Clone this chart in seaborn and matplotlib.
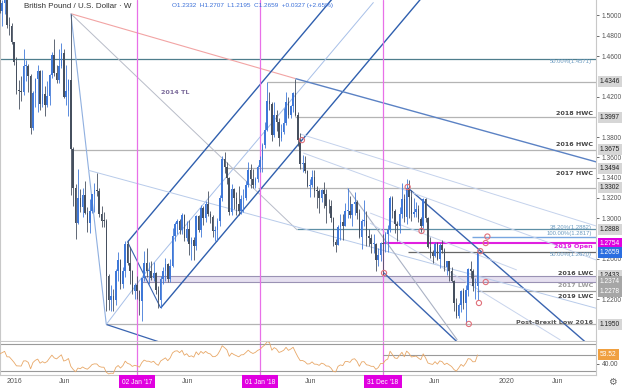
import numpy as np
import pandas as pd
import matplotlib
matplotlib.use("Agg")
import matplotlib.pyplot as plt
import matplotlib.dates as mdates
import matplotlib.transforms as mtransforms
import seaborn as sns

# ---- weekly GBP/USD candles, Mondays 2015-08-03 ... 2019-10-07 (open = prior close)
first_open = 1.5615
highs = [
    # 2015 Aug-Dec
    1.5690, 1.5660, 1.5820, 1.5750, 1.5460, 1.5470, 1.5660, 1.5600, 1.5250, 1.5380, 1.5510,
    1.5510, 1.5430, 1.5510, 1.5240, 1.5330, 1.5230, 1.5155, 1.5240, 1.5240, 1.4990, 1.4930,
    # 2016
    1.4740, 1.4590, 1.4360, 1.4400, 1.4670, 1.4560, 1.4520, 1.4420, 1.4250, 1.4380, 1.4515,
    1.4460, 1.4460, 1.4300, 1.4350, 1.4420, 1.4640, 1.4770, 1.4510, 1.4670, 1.4730, 1.4670,
    1.4510, 1.4375, 1.5018, 1.3700, 1.3340, 1.3480, 1.3290, 1.3300, 1.3370, 1.3110, 1.3190,
    1.3240, 1.3345, 1.3445, 1.3300, 1.3120, 1.3060, 1.2990, 1.2450, 1.2340, 1.2300, 1.2500,
    1.2670, 1.2600, 1.2520, 1.2775, 1.2775, 1.2710, 1.2490, 1.2360,
    # 2017
    1.2430, 1.2290, 1.2415, 1.2675, 1.2705, 1.2570, 1.2580, 1.2570, 1.2470, 1.2330, 1.2430,
    1.2520, 1.2610, 1.2560, 1.2600, 1.2905, 1.2960, 1.2990, 1.2990, 1.3048, 1.3040, 1.2975,
    1.2980, 1.2815, 1.2810, 1.3030, 1.3030, 1.3125, 1.3115, 1.3165, 1.3267, 1.3075, 1.3030,
    1.2920, 1.3000, 1.3225, 1.3615, 1.3657, 1.3550, 1.3410, 1.3340, 1.3300, 1.3260, 1.3320,
    1.3230, 1.3290, 1.3365, 1.3550, 1.3530, 1.3480, 1.3410, 1.3520,
    # 2018
    1.3615, 1.3745, 1.3945, 1.4345, 1.4240, 1.4150, 1.4145, 1.4070, 1.3990, 1.3930, 1.4090,
    1.4245, 1.4200, 1.4115, 1.4245, 1.4377, 1.4050, 1.3845, 1.3620, 1.3615, 1.3470, 1.3390,
    1.3470, 1.3475, 1.3315, 1.3290, 1.3290, 1.3360, 1.3285, 1.3190, 1.3175, 1.3010, 1.2790,
    1.2930, 1.3045, 1.3040, 1.3145, 1.3299, 1.3215, 1.3140, 1.3255, 1.3175, 1.3090, 1.2990,
    1.3175, 1.3070, 1.2890, 1.2845, 1.2840, 1.2750, 1.2705, 1.2760, 1.2840,
    # 2019
    1.2865, 1.2930, 1.3215, 1.3215, 1.3085, 1.2970, 1.3110, 1.3350, 1.3240, 1.3382, 1.3380,
    1.3280, 1.3195, 1.3160, 1.3125, 1.3010, 1.3200, 1.3195, 1.3010, 1.2815, 1.2690, 1.2765,
    1.2760, 1.2750, 1.2785, 1.2705, 1.2580, 1.2580, 1.2520, 1.2390, 1.2210, 1.2160, 1.2295,
    1.2310, 1.2340, 1.2510, 1.2580, 1.2500, 1.2410, 1.2707,
]
lows = [
    # 2015 Aug-Dec
    1.5410, 1.5470, 1.5570, 1.5330, 1.5160, 1.5170, 1.5340, 1.5180, 1.5110, 1.5100, 1.5250,
    1.5290, 1.5260, 1.5030, 1.5030, 1.5170, 1.5025, 1.4895, 1.5010, 1.4880, 1.4805, 1.4715,
    # 2016
    1.4510, 1.4230, 1.4080, 1.4160, 1.4220, 1.4350, 1.4240, 1.3835, 1.3870, 1.4100, 1.4050,
    1.4070, 1.4100, 1.4005, 1.4100, 1.4120, 1.4380, 1.4400, 1.4330, 1.4330, 1.4480, 1.4190,
    1.4120, 1.4010, 1.3229, 1.3120, 1.2798, 1.2940, 1.3060, 1.3010, 1.3040, 1.2865, 1.2850,
    1.3050, 1.3060, 1.3220, 1.3010, 1.2915, 1.2910, 1.2085, 1.2090, 1.2085, 1.2080, 1.2140,
    1.2380, 1.2300, 1.2310, 1.2420, 1.2540, 1.2350, 1.2250, 1.2200,
    # 2017
    1.2200, 1.2040, 1.1986, 1.2380, 1.2420, 1.2345, 1.2385, 1.2380, 1.2250, 1.2110, 1.2110,
    1.2350, 1.2380, 1.2365, 1.2365, 1.2515, 1.2775, 1.2840, 1.2845, 1.2845, 1.2770, 1.2770,
    1.2635, 1.2590, 1.2590, 1.2690, 1.2865, 1.2810, 1.2930, 1.2960, 1.3020, 1.2950, 1.2810,
    1.2775, 1.2770, 1.2925, 1.3170, 1.3450, 1.3340, 1.3030, 1.3030, 1.3090, 1.3030, 1.3030,
    1.3040, 1.3060, 1.3180, 1.3305, 1.3300, 1.3300, 1.3300, 1.3360,
    # 2018
    1.3460, 1.3460, 1.3690, 1.3855, 1.4070, 1.3765, 1.3800, 1.3855, 1.3710, 1.3765, 1.3835,
    1.3915, 1.3985, 1.3990, 1.4050, 1.4005, 1.3710, 1.3485, 1.3460, 1.3445, 1.3305, 1.3205,
    1.3310, 1.3205, 1.3100, 1.3050, 1.3160, 1.3100, 1.2955, 1.3055, 1.2960, 1.2725, 1.2662,
    1.2730, 1.2785, 1.2785, 1.2920, 1.3000, 1.3000, 1.2920, 1.3030, 1.2990, 1.2805, 1.2695,
    1.2920, 1.2725, 1.2725, 1.2660, 1.2660, 1.2477, 1.2525, 1.2580, 1.2438,
    # 2019
    1.2670, 1.2670, 1.2865, 1.3000, 1.2855, 1.2775, 1.2855, 1.3000, 1.2965, 1.2945, 1.3005,
    1.2975, 1.3010, 1.3010, 1.2960, 1.2865, 1.2905, 1.2965, 1.2705, 1.2605, 1.2560, 1.2620,
    1.2585, 1.2505, 1.2660, 1.2480, 1.2440, 1.2380, 1.2365, 1.2080, 1.2015, 1.2015, 1.2070,
    1.2100, 1.1959, 1.2235, 1.2410, 1.2280, 1.2200, 1.2195,
]
closes = [
    # 2015 Aug-Dec
    1.5505, 1.5640, 1.5700, 1.5400, 1.5190, 1.5430, 1.5595, 1.5200, 1.5190, 1.5330, 1.5450,
    1.5315, 1.5425, 1.5060, 1.5230, 1.5190, 1.5040, 1.5120, 1.5215, 1.4905, 1.4900, 1.4735,
    # 2016
    1.4540, 1.4265, 1.4255, 1.4245, 1.4500, 1.4505, 1.4405, 1.3890, 1.4235, 1.4375, 1.4450,
    1.4130, 1.4225, 1.4120, 1.4205, 1.4410, 1.4615, 1.4430, 1.4365, 1.4500, 1.4630, 1.4200,
    1.4255, 1.4360, 1.3680, 1.3295, 1.2955, 1.3200, 1.3110, 1.3225, 1.3050, 1.2950, 1.3075,
    1.3235, 1.3275, 1.3265, 1.3040, 1.2975, 1.2970, 1.2430, 1.2190, 1.2230, 1.2190, 1.2480,
    1.2590, 1.2345, 1.2475, 1.2745, 1.2555, 1.2480, 1.2280, 1.2340,
    # 2017
    1.2280, 1.2180, 1.2410, 1.2560, 1.2480, 1.2480, 1.2410, 1.2460, 1.2295, 1.2195, 1.2395,
    1.2475, 1.2550, 1.2395, 1.2530, 1.2825, 1.2945, 1.2970, 1.2885, 1.3030, 1.2800, 1.2890,
    1.2740, 1.2785, 1.2720, 1.3025, 1.2880, 1.3100, 1.3000, 1.3135, 1.3045, 1.3010, 1.2875,
    1.2880, 1.2970, 1.3200, 1.3585, 1.3500, 1.3400, 1.3065, 1.3285, 1.3200, 1.3135, 1.3075,
    1.3190, 1.3200, 1.3325, 1.3475, 1.3385, 1.3330, 1.3390, 1.3505,
    # 2018
    1.3570, 1.3725, 1.3865, 1.4155, 1.4125, 1.3820, 1.4015, 1.3950, 1.3795, 1.3850, 1.3935,
    1.4145, 1.4015, 1.4105, 1.4235, 1.4015, 1.3775, 1.3535, 1.3545, 1.3465, 1.3315, 1.3325,
    1.3410, 1.3270, 1.3265, 1.3195, 1.3280, 1.3235, 1.3120, 1.3115, 1.3000, 1.2765, 1.2735,
    1.2915, 1.2965, 1.2925, 1.3070, 1.3070, 1.3030, 1.3135, 1.3155, 1.3050, 1.2815, 1.2970,
    1.2975, 1.2825, 1.2800, 1.2745, 1.2745, 1.2585, 1.2635, 1.2754, 1.2745,
    # 2019
    1.2845, 1.2885, 1.3195, 1.3075, 1.2940, 1.2920, 1.3045, 1.3185, 1.3010, 1.3300, 1.3205,
    1.3040, 1.3065, 1.3085, 1.2995, 1.2925, 1.3190, 1.3005, 1.2715, 1.2660, 1.2625, 1.2740,
    1.2595, 1.2735, 1.2690, 1.2520, 1.2575, 1.2475, 1.2375, 1.2165, 1.2030, 1.2145, 1.2285,
    1.2160, 1.2290, 1.2500, 1.2475, 1.2325, 1.2332, 1.2659,
]

# ---- horizontal levels drawn on the chart
level_prices = [1.4571, 1.4346, 1.3997, 1.3675, 1.3494, 1.3302, 1.2888, 1.2817, 1.2754, 1.2670, 1.2278, 1.1950]
level_starts = ["2015-11-01", "2018-01-22", "2018-04-16", "2016-06-20", "2017-09-18", "2017-12-25",
                "2018-04-21", "2019-09-20", "2018-12-31", "2019-03-15", "2019-10-05", "2016-10-03"]
level_colors = ["#4e7d8c", "#b4b4b4", "#b4b4b4", "#b4b4b4", "#b4b4b4", "#b4b4b4",
                "#5d8fa6", "#78a6e0", "#e020e0", "#666666", "#9a9a9a", "#b4b4b4"]
level_widths = [0.9, 0.9, 0.9, 0.9, 0.9, 0.9, 0.9, 1.0, 1.5, 0.9, 0.9, 0.9]
lwc_band = (1.2374, 1.2433)
lwc_band_start = "2017-01-16"

# ---- trendlines (start date, start price, end date, end price)
tl_start_dates = ["2016-06-20", "2016-06-20", "2016-06-20", "2016-10-03", "2016-12-05", "2017-03-13",
                  "2016-12-05", "2017-01-22", "2016-10-03", "2018-04-16", "2019-03-15", "2019-01-03",
                  "2016-08-10", "2018-04-30", "2018-05-09", "2018-09-16", "2018-11-23", "2018-11-23"]
tl_start_prices = [1.5018, 1.5018, 1.5018, 1.1950, 1.2764, 1.2113,
                   1.2764, 1.2439, 1.1950, 1.4377, 1.3297, 1.2458,
                   1.3473, 1.3830, 1.3643, 1.3297, 1.3050, 1.2951]
tl_end_dates = ["2018-04-16", "2018-04-21", "2016-10-03", "2017-04-30", "2018-09-03", "2019-05-06",
                "2017-03-13", "2018-12-03", "2017-01-22", "2020-09-24", "2020-09-22", "2019-09-01",
                "2020-09-22", "2020-09-22", "2020-09-22", "2019-08-08", "2020-01-31", "2020-06-08"]
tl_end_prices = [1.4377, 1.2883, 1.1950, 1.1720, 1.5288, 1.5220,
                 1.2113, 1.5130, 1.2439, 1.3553, 1.1684, 1.1701,
                 1.2110, 1.2922, 1.2587, 1.1797, 1.2488, 1.1797]
tl_colors = ["#f2a4a4", "#b8bcc8", "#90b0e0", "#3a64b0", "#2f5fae", "#2f5fae",
             "#3a64b0", "#a8c0e8", "#a8c0e8", "#5b82c4", "#3a64b0", "#3a64b0",
             "#b8cbea", "#c4d2ec", "#c4d2ec", "#aab2c4", "#c8d4ec", "#c8d4ec"]
tl_widths = [0.8, 0.7, 0.8, 0.9, 1.0, 1.0, 0.8, 0.7, 0.7, 1.0, 1.0, 1.0,
             0.7, 0.7, 0.7, 0.8, 0.7, 0.7]

# ---- touch points (red circles)
circle_dates = ["2018-05-05", "2019-03-14", "2019-04-24", "2019-01-03", "2019-11-05",
                "2019-10-31", "2019-10-15", "2019-10-31", "2019-10-11", "2019-09-11"]
circle_prices = [1.3770, 1.3307, 1.2873, 1.2458, 1.2818, 1.2754, 1.2674, 1.2369, 1.2162, 1.1955]

# ---- text
level_label_texts = ["2018 HWC", "2016 HWC", "2017 HWC", "2019 Open", "2016 LWC", "2017 LWC",
                     "2019 LWC", "Post-Brexit Low 2016"]
level_label_prices = [1.4037, 1.3722, 1.3445, 1.2715, 1.2458, 1.2330, 1.2231, 1.1974]
level_label_colors = ["#444444", "#444444", "#444444", "#e020e0", "#444444", "#9a9a9a", "#444444", "#555555"]
fib_label_texts = ["50.00%(1.4571)", "38.20%(1.2882)", "100.00%(1.2817)", "50.00%(1.2670)"]
fib_label_prices = [1.4541, 1.2912, 1.2848, 1.2636]

badge_texts = ["1.4346", "1.3997", "1.3675", "1.3494", "1.3302", "1.2888", "1.2754",
               "1.2659", "1.2433", "1.2374", "1.2278", "1.1950"]
badge_bg = ["#d6d6d6", "#d6d6d6", "#d6d6d6", "#d6d6d6", "#d6d6d6", "#d6d6d6", "#e000e0",
            "#2a6ee0", "#d6d6d6", "#a6a6a6", "#a6a6a6", "#d6d6d6"]
badge_fg = ["#222222", "#222222", "#222222", "#222222", "#222222", "#222222", "white",
            "white", "#222222", "white", "white", "#222222"]
price_ticks = [1.22, 1.26, 1.30, 1.32, 1.34, 1.36, 1.38, 1.42, 1.46, 1.48, 1.50]

year_marks = ["2017-01-02", "2018-01-01", "2018-12-31"]
year_mark_labels = ["02 Jan '17", "01 Jan '18", "31 Dec '18"]
x_tick_dates = ["2016-01-04", "2016-06-01", "2017-06-01", "2018-06-01", "2019-06-01", "2020-01-01", "2020-06-01"]
x_tick_labels = ["2016", "Jun", "Jun", "Jun", "Jun", "2020", "Jun"]

# ---------------------------------------------------------------------------
weeks = pd.date_range("2015-08-03", periods=len(closes), freq="7D")
assert len(highs) == len(lows) == len(closes) == 219
df = pd.DataFrame({"week": weeks, "high": highs, "low": lows, "close": closes})
df["open"] = df["close"].shift(1).fillna(first_open)
df["x"] = mdates.date2num(df["week"])

# Wilder RSI(14) on weekly closes
delta = df["close"].diff()
gain = delta.clip(lower=0).ewm(alpha=1 / 14, adjust=False).mean()
loss = (-delta.clip(upper=0)).ewm(alpha=1 / 14, adjust=False).mean()
df["rsi"] = 100 - 100 / (1 + gain / loss)

sns.set_theme(style="white")
plt.rcParams["font.family"] = ["Liberation Sans", "DejaVu Sans"]

fig = plt.figure(figsize=(6.24, 3.88), dpi=100)
ax = fig.add_axes([0, 47 / 388, 596 / 624, 341 / 388])
rax = fig.add_axes([0, 13 / 388, 596 / 624, 33 / 388])

anchor = mdates.date2num(pd.Timestamp("2018-12-31"))
px_per_day = 2.365 / 7
xmin, xmax = anchor - 383 / px_per_day, anchor + 213 / px_per_day
for a in (ax, rax):
    a.set_xlim(xmin, xmax)
    a.set_facecolor("white")
    for s in ("top",):
        a.spines[s].set_visible(False)
    for s in ("left", "right", "bottom"):
        a.spines[s].set_color("#c8c8c8")
        a.spines[s].set_linewidth(0.8)
ax.set_ylim(1.17868, 1.5153)
rax.set_ylim(23.5, 73)

num = lambda d: mdates.date2num(pd.Timestamp(d))

# levels
for p, s, c, w in zip(level_prices, level_starts, level_colors, level_widths):
    ax.hlines(p, num(s), xmax, color=c, lw=w, zorder=2)
ax.fill_between([num(lwc_band_start), xmax], lwc_band[0], lwc_band[1], color="#e6e0f0", lw=0, zorder=1)
ax.hlines(list(lwc_band), num(lwc_band_start), xmax, color="#9a92b4", lw=0.8, zorder=2)

# trendlines
for d0, p0, d1, p1, c, w in zip(tl_start_dates, tl_start_prices, tl_end_dates, tl_end_prices, tl_colors, tl_widths):
    ax.plot([num(d0), num(d1)], [p0, p1], color=c, lw=w, zorder=2, solid_capstyle="butt")

# year markers
for d in year_marks:
    ax.axvline(num(d), color="#e870e8", lw=0.9, zorder=2)
    rax.axvline(num(d), color="#e870e8", lw=0.9, zorder=2)

# candles
up = df["close"] >= df["open"]
colors = np.where(up, "#3f78d8", "#46505f")
ax.vlines(df["x"], df["low"], df["high"], colors=colors, lw=0.6, zorder=3)
body_lo = np.minimum(df["open"], df["close"])
body_h = np.maximum((df["close"] - df["open"]).abs(), 0.0008)
ax.bar(df["x"], body_h, bottom=body_lo, width=4.6, color=colors, linewidth=0, zorder=4)

# circles
ax.scatter([num(d) for d in circle_dates], circle_prices, s=14, facecolors="none",
           edgecolors="#e0707a", linewidths=0.8, zorder=6)

# level text
trans = mtransforms.blended_transform_factory(ax.transAxes, ax.transData)
for t, p, c in zip(level_label_texts, level_label_prices, level_label_colors):
    ax.text(0.995, p, t, transform=trans, ha="right", va="center", fontsize=4.6,
            fontweight="bold", color=c, family="DejaVu Sans", zorder=7)
for t, p in zip(fib_label_texts, fib_label_prices):
    ax.text(0.993, p, t, transform=trans, ha="right", va="center", fontsize=4.2,
            color="#6a9ac0", zorder=7)
ax.text(num("2017-04-25"), 1.4235, "2014 TL", fontsize=4.6, fontweight="bold",
        color="#7a6a9a", family="DejaVu Sans", ha="center", va="center", zorder=7)

# price axis
ax.yaxis.tick_right()
ax.set_yticks(price_ticks)
ax.set_yticklabels([f"{t:.4f}" for t in price_ticks])
ax.tick_params(axis="y", labelsize=4.8, colors="#555555", length=2, width=0.6, pad=2)
ax.tick_params(axis="x", bottom=False, labelbottom=False)
for t, p, bg, fg in zip(badge_texts, [float(b) for b in badge_texts], badge_bg, badge_fg):
    ax.text(1.0 + 4 / 596, p, t, transform=trans, ha="left", va="center", fontsize=4.8,
            color=fg, bbox=dict(boxstyle="square,pad=0.3", fc=bg, ec="none"), zorder=10, clip_on=False)

# RSI pane
sns.lineplot(data=df, x="x", y="rsi", ax=rax, color="#e8a868", lw=0.6, zorder=3)
rax.axhline(70, color="#9a9a9a", lw=0.8)
rax.axhline(30, color="#9a9a9a", lw=0.8)
rax.hlines(54, anchor, xmax, color="#9a9a9a", lw=0.8)
rax.set_xlabel("")
rax.set_ylabel("")
rax.yaxis.tick_right()
rax.set_yticks([40])
rax.set_yticklabels(["40.00"])
rax.tick_params(axis="y", labelsize=4.8, colors="#555555", length=2, width=0.6, pad=2)
rtrans = mtransforms.blended_transform_factory(rax.transAxes, rax.transData)
rax.text(1.0 + 4 / 596, 53.52, "53.52", transform=rtrans, ha="left", va="center", fontsize=4.8,
         color="white", bbox=dict(boxstyle="square,pad=0.3", fc="#f0a040", ec="none"), zorder=10, clip_on=False)

rax.set_xticks([num(d) for d in x_tick_dates])
rax.set_xticklabels(x_tick_labels)
rax.tick_params(axis="x", labelsize=5, colors="#555555", length=0, pad=2.5)
btrans = mtransforms.blended_transform_factory(rax.transData, rax.transAxes)
for d, t in zip(year_marks, year_mark_labels):
    rax.text(num(d), -7 / 33, t, transform=btrans, ha="center", va="center", fontsize=4.8,
             color="white", bbox=dict(boxstyle="square,pad=0.5", fc="#e000e0", ec="none"),
             zorder=10, clip_on=False)

# header
fig.text(24 / 624, 1 - 6 / 388, "British Pound / U.S. Dollar \u00b7 W", fontsize=5.8,
         color="#333333", va="center", ha="left")
fig.text(172 / 624, 1 - 6 / 388, "O1.2332  H1.2707  L1.2195  C1.2659  +0.0327 (+2.65%)",
         fontsize=4.6, color="#3a6fd8", va="center", ha="left")
fig.text(612 / 624, 1 - 382 / 388, "\u2699", fontsize=7, color="#666666", ha="center",
         va="center", family="DejaVu Sans")

fig.savefig("out.png", dpi=100)
